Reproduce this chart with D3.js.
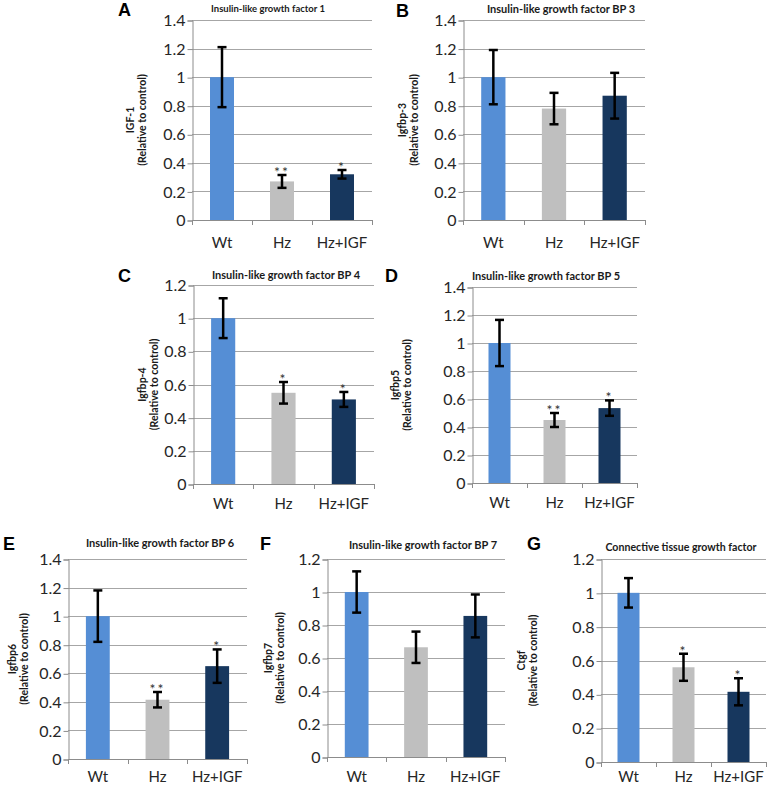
<!DOCTYPE html>
<html>
<head>
<meta charset="utf-8">
<script src="https://cdn.jsdelivr.net/npm/d3@7/dist/d3.min.js"></script>
<style>
  body { margin: 0; background: #fff; }
  svg { display: block; }
</style>
</head>
<body>
<svg id="fig" width="767" height="789"></svg>
<script>
// groups shared by all seven panels
const groups = ['Wt', 'Hz', 'Hz+IGF']
const groupColors = ['#558ED5', '#BFBFBF', '#17375E']

const letters = ['A', 'B', 'C', 'D', 'E', 'F', 'G']
const titles = [
  'Insulin-like growth factor 1',
  'Insulin-like growth factor BP 3',
  'Insulin-like growth factor BP 4',
  'Insulin-like growth factor BP 5',
  'Insulin-like growth factor BP 6',
  'Insulin-like growth factor BP 7',
  'Connective tissue growth factor'
]
const geneLabels = ['IGF-1', 'Igfbp-3', 'Igfbp-4', 'Igfbp5', 'Igfbp6', 'Igfbp7', 'Ctgf']
const yMax = [1.4, 1.4, 1.2, 1.4, 1.4, 1.2, 1.2]

// relative expression (mean) and error bar half-length
const igf1 = [1, 0.27, 0.32]
const igf1Err = [0.21, 0.045, 0.03]
const igfbp3 = [1, 0.78, 0.87]
const igfbp3Err = [0.19, 0.11, 0.16]
const igfbp4 = [1, 0.55, 0.51]
const igfbp4Err = [0.12, 0.065, 0.045]
const igfbp5 = [1, 0.45, 0.535]
const igfbp5Err = [0.165, 0.05, 0.055]
const igfbp6 = [1, 0.415, 0.65]
const igfbp6Err = [0.18, 0.054, 0.117]
const igfbp7 = [1, 0.665, 0.855]
const igfbp7Err = [0.125, 0.095, 0.13]
const ctgf = [1, 0.56, 0.415]
const ctgfErr = [0.087, 0.08, 0.08]

// significance marks per panel
const stars = [
  ['', '**', '*'],
  ['', '', ''],
  ['', '*', '*'],
  ['', '**', '*'],
  ['', '**', '*'],
  ['', '', ''],
  ['', '*', '*']
]

const means = [igf1, igfbp3, igfbp4, igfbp5, igfbp6, igfbp7, ctgf]
const errs = [igf1Err, igfbp3Err, igfbp4Err, igfbp5Err, igfbp6Err, igfbp7Err, ctgfErr]

// panel frames in page pixels (plot area, x label baseline, letter, title, y title)
const frames = [
  { x0: 192, x1: 372, yTop: 20, y0: 220, xl: 248, lx: 118, ly: 16, tx: 268, ty: 12, ts: 9.5, gx: 130 },
  { x0: 463, x1: 645, yTop: 20, y0: 220, xl: 248, lx: 396, ly: 17, tx: 561, ty: 13, ts: 11, gx: 402 },
  { x0: 193, x1: 374, yTop: 285, y0: 484, xl: 509, lx: 118, ly: 282, tx: 286, ty: 279, ts: 11, gx: 142 },
  { x0: 472, x1: 637, yTop: 287, y0: 483, xl: 508, lx: 385, ly: 282, tx: 546, ty: 280, ts: 11, gx: 395 },
  { x0: 68, x1: 247, yTop: 559, y0: 759, xl: 782, lx: 3, ly: 550, tx: 160, ty: 547, ts: 11, gx: 12 },
  { x0: 327, x1: 505, yTop: 559, y0: 757, xl: 782, lx: 260, ly: 550, tx: 423, ty: 549, ts: 11, gx: 268 },
  { x0: 601, x1: 766, yTop: 559, y0: 762, xl: 782, lx: 527, ly: 550, tx: 681, ty: 551, ts: 10.6, gx: 521 }
]

const svg = d3.select('#fig')
const gridColor = '#A6A6A6'
const axisColor = '#8C8C8C'
const textColor = '#262626'

frames.forEach((f, i) => {
  const g = svg.append('g').attr('class', 'panel')

  const x = d3.scaleBand().domain(groups).range([f.x0, f.x1]).padding(0)
  const y = d3.scaleLinear().domain([0, yMax[i]]).range([f.y0, f.yTop])
  const ticks = d3.range(0, yMax[i] + 0.001, 0.2)

  // gridlines
  g.selectAll('.grid')
    .data(ticks.filter(t => t > 0))
    .enter()
    .append('line')
    .attr('x1', f.x0).attr('x2', f.x1)
    .attr('y1', d => Math.round(y(d)) + 0.5)
    .attr('y2', d => Math.round(y(d)) + 0.5)
    .attr('stroke', gridColor)
    .attr('stroke-width', 1)

  // y axis
  const yAxis = d3.axisLeft(y)
    .tickValues(ticks)
    .tickSize(5)
    .tickFormat(d => d3.format('.1f')(d).replace(/\.0$/, ''))
  const ya = g.append('g')
    .attr('transform', `translate(${Math.round(f.x0) + 0.5},0.5)`)
    .call(yAxis)
  ya.select('.domain').attr('stroke', axisColor)
  ya.selectAll('.tick line').attr('stroke', axisColor)
  ya.selectAll('.tick text')
    .attr('x', -7)
    .attr('fill', textColor)
    .style('font-family', 'Lato, sans-serif')
    .style('font-size', '16px')

  // x axis with boundary ticks between categories
  g.append('line')
    .attr('x1', f.x0).attr('x2', f.x1)
    .attr('y1', Math.round(f.y0) + 0.5).attr('y2', Math.round(f.y0) + 0.5)
    .attr('stroke', axisColor)
  const bounds = groups.map(d => x(d)).concat([f.x1])
  g.selectAll('.xtick')
    .data(bounds)
    .enter()
    .append('line')
    .attr('x1', d => Math.round(d) + 0.5).attr('x2', d => Math.round(d) + 0.5)
    .attr('y1', f.y0).attr('y2', f.y0 + 5)
    .attr('stroke', axisColor)
  g.selectAll('.xlab')
    .data(groups)
    .enter()
    .append('text')
    .attr('x', d => x(d) + x.bandwidth() / 2)
    .attr('y', f.xl)
    .attr('text-anchor', 'middle')
    .attr('fill', textColor)
    .style('font-family', 'Lato, sans-serif')
    .style('font-size', '15px')
    .text(d => d)

  // bars
  const bw = x.bandwidth() * 0.4
  const rows = groups.map((d, j) => ({ grp: d, v: means[i][j], e: errs[i][j], s: stars[i][j], c: groupColors[j] }))
  g.selectAll('.bar')
    .data(rows)
    .enter()
    .append('rect')
    .attr('x', d => x(d.grp) + (x.bandwidth() - bw) / 2)
    .attr('width', bw)
    .attr('y', d => y(d.v))
    .attr('height', d => f.y0 - y(d.v))
    .attr('fill', d => d.c)

  // error bars
  const eb = g.selectAll('.err')
    .data(rows)
    .enter()
    .append('g')
  const cx = d => x(d.grp) + x.bandwidth() / 2
  eb.append('line')
    .attr('x1', cx).attr('x2', cx)
    .attr('y1', d => y(d.v + d.e)).attr('y2', d => y(d.v - d.e))
    .attr('stroke', '#000').attr('stroke-width', 2.5)
  eb.append('line')
    .attr('x1', d => cx(d) - 4.5).attr('x2', d => cx(d) + 4.5)
    .attr('y1', d => y(d.v + d.e)).attr('y2', d => y(d.v + d.e))
    .attr('stroke', '#000').attr('stroke-width', 2.5)
  eb.append('line')
    .attr('x1', d => cx(d) - 4.5).attr('x2', d => cx(d) + 4.5)
    .attr('y1', d => y(d.v - d.e)).attr('y2', d => y(d.v - d.e))
    .attr('stroke', '#000').attr('stroke-width', 2.5)

  // significance stars
  g.selectAll('.star')
    .data(rows.filter(d => d.s))
    .enter()
    .append('text')
    .attr('x', cx)
    .attr('y', d => y(d.v + d.e) + 2)
    .attr('text-anchor', 'middle')
    .attr('fill', '#333')
    .style('font-family', 'Lato, sans-serif')
    .style('font-size', '14px')
    .style('letter-spacing', '2px')
    .text(d => d.s)

  // panel letter
  g.append('text')
    .attr('x', f.lx).attr('y', f.ly)
    .attr('fill', '#000')
    .style('font-family', '"Liberation Sans", Arial, sans-serif')
    .style('font-weight', 'bold')
    .style('font-size', '18px')
    .text(letters[i])

  // title
  g.append('text')
    .attr('x', f.tx).attr('y', f.ty)
    .attr('text-anchor', 'middle')
    .attr('fill', '#1a1a1a')
    .style('font-family', 'Lato, sans-serif')
    .style('font-weight', 'bold')
    .style('font-size', f.ts + 'px')
    .text(titles[i])

  // y title, two rotated lines
  const ymid = (f.yTop + f.y0) / 2
  const yt = g.append('text')
    .attr('transform', `translate(${f.gx},${ymid}) rotate(-90)`)
    .attr('text-anchor', 'middle')
    .attr('fill', '#1a1a1a')
    .style('font-family', 'Lato, sans-serif')
    .style('font-weight', 'bold')
    .style('font-size', '10.5px')
  yt.append('tspan').attr('x', 0).attr('dy', '0.35em').text(geneLabels[i])
  yt.append('tspan').attr('x', 0).attr('dy', '1.15em').text('(Relative to control)')
})
</script>
</body>
</html>
